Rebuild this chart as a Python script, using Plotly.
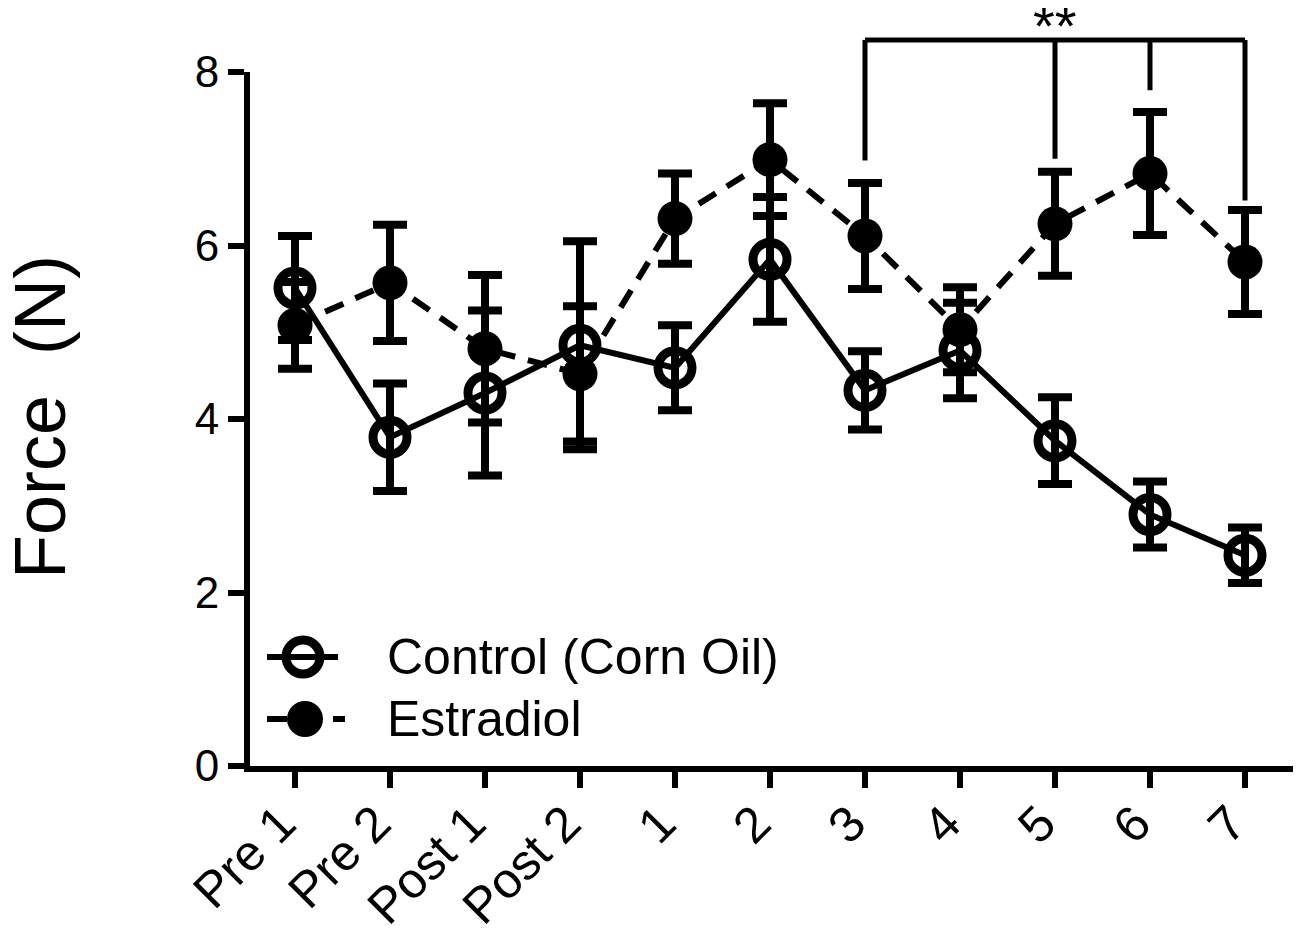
import plotly.graph_objects as go

# ---------------- data ----------------
cats = ["Pre 1", "Pre 2", "Post 1", "Post 2", "1", "2", "3", "4", "5", "6", "7"]
control = [5.51, 3.79, 4.30, 4.85, 4.59, 5.84, 4.33, 4.79, 3.75, 2.90, 2.43]
control_err = [0.60, 0.62, 0.95, 1.20, 0.49, 0.72, 0.45, 0.55, 0.50, 0.38, 0.32]
estradiol = [5.08, 5.57, 4.81, 4.52, 6.31, 6.99, 6.11, 5.03, 6.25, 6.83, 5.81]
estradiol_err = [0.50, 0.67, 0.85, 0.78, 0.52, 0.65, 0.61, 0.49, 0.60, 0.71, 0.60]
y_ticks = [0, 2, 4, 6, 8]

# significance bracket (in data units of y)
bracket_level = 8.37
bracket_from, bracket_to = "3", "7"
bracket_drops = {"3": 6.98, "5": 7.00, "6": 7.79, "7": 6.52}
bracket_label = "**"
bracket_label_at = "5"

FONT = "Arial, 'Liberation Sans', sans-serif"
W, H = 1301, 939
OFF = 8  # page body margin
# plot area in page pixels
PL, PR, PT, PB = 250, 1295, 72, 766
ML, MR = PL - OFF, W - (PR - OFF)
MT, MB = PT - OFF, H - (PB - OFF)
YMAX = 8.0
PW, PH = PR - PL, PB - PT


def px2x(px):
    return (px - PL) / PW


def py2y(py):
    return (PB - py) / PH


def yd2p(v):
    return v / YMAX


def ci(name):
    return cats.index(name)


fig = go.Figure()

fig.add_trace(go.Scatter(
    x=cats, y=estradiol, name="Estradiol", mode="lines+markers",
    error_y=dict(type="data", array=estradiol_err, visible=True,
                 color="black", thickness=8, width=17),
    line=dict(color="black", width=6, dash="20px,13px"),
    marker=dict(symbol="circle", size=35, color="black"),
    showlegend=False, cliponaxis=False,
))
fig.add_trace(go.Scatter(
    x=cats, y=control, name="Control (Corn Oil)", mode="lines+markers",
    error_y=dict(type="data", array=control_err, visible=True,
                 color="black", thickness=8, width=17),
    line=dict(color="black", width=6),
    marker=dict(symbol="circle-open", size=34, color="black",
                line=dict(width=9, color="black")),
    showlegend=False, cliponaxis=False,
))

shapes = []
# bracket
shapes.append(dict(type="line", xref="x", yref="paper",
                   x0=ci(bracket_from), x1=ci(bracket_to),
                   y0=yd2p(bracket_level), y1=yd2p(bracket_level),
                   line=dict(color="black", width=5)))
for k, v in bracket_drops.items():
    shapes.append(dict(type="line", xref="x", yref="paper",
                       x0=ci(k), x1=ci(k), y0=yd2p(v), y1=yd2p(bracket_level),
                       line=dict(color="black", width=5)))

# custom legend
leg_rows = [("Control (Corn Oil)", 657, "solid", False),
            ("Estradiol", 719, "20px,13px", True)]
annotations = []
for label, py, dash, filled in leg_rows:
    shapes.append(dict(type="line", xref="paper", yref="paper",
                       x0=px2x(267), x1=px2x(345 if filled else 338),
                       y0=py2y(py), y1=py2y(py),
                       line=dict(color="black", width=6, dash=dash)))
    if filled:
        shapes.append(dict(type="circle", xref="paper", yref="paper",
                           xsizemode="pixel", ysizemode="pixel",
                           xanchor=px2x(305), yanchor=py2y(py),
                           x0=-18, x1=18, y0=-18, y1=18,
                           fillcolor="black", line=dict(width=0)))
    else:
        shapes.append(dict(type="circle", xref="paper", yref="paper",
                           xsizemode="pixel", ysizemode="pixel",
                           xanchor=px2x(303), yanchor=py2y(py),
                           x0=-17, x1=17, y0=-17, y1=17,
                           fillcolor="rgba(0,0,0,0)",
                           line=dict(width=9, color="black")))
    annotations.append(dict(text=label, xref="paper", yref="paper",
                            x=px2x(385), y=py2y(py), xanchor="left",
                            yanchor="middle", showarrow=False,
                            font=dict(family=FONT, size=50, color="black")))

annotations.append(dict(text=bracket_label, xref="x", yref="paper",
                        x=ci(bracket_label_at), y=py2y(26), xanchor="center",
                        yanchor="middle", showarrow=False,
                        font=dict(family=FONT, size=56, color="black")))
annotations.append(dict(text="Force\u00a0\u00a0(N)", xref="paper", yref="paper",
                        x=px2x(40), y=py2y(417), xanchor="center",
                        yanchor="middle", textangle=-90, showarrow=False,
                        font=dict(family=FONT, size=72, color="black")))

x_lo = -(cats.index("Pre 1") + 0 + (295 - PL) / 95.0)
x_hi = (len(cats) - 1) + (PR - 1245) / 95.0

fig.update_layout(
    width=W, height=H,
    margin=dict(l=ML, r=MR, t=MT, b=MB, autoexpand=False),
    paper_bgcolor="white", plot_bgcolor="white",
    shapes=shapes, annotations=annotations, showlegend=False,
    xaxis=dict(type="category", categoryorder="array", categoryarray=cats,
               range=[x_lo, x_hi], showline=True, linewidth=6,
               linecolor="black", ticks="outside", ticklen=16, tickwidth=6,
               tickcolor="black", tickangle=-45, showgrid=False,
               zeroline=False, ticklabelstandoff=-14, ticklabelshift=-14,
               tickfont=dict(family=FONT, size=50, color="black")),
    yaxis=dict(range=[0, YMAX], tickvals=y_ticks, showline=True, linewidth=6,
               linecolor="black", ticks="outside", ticklen=16, tickwidth=6,
               tickcolor="black", showgrid=False, zeroline=False,
               tickfont=dict(family=FONT, size=44, color="black")),
)

fig.write_html("out.html")
